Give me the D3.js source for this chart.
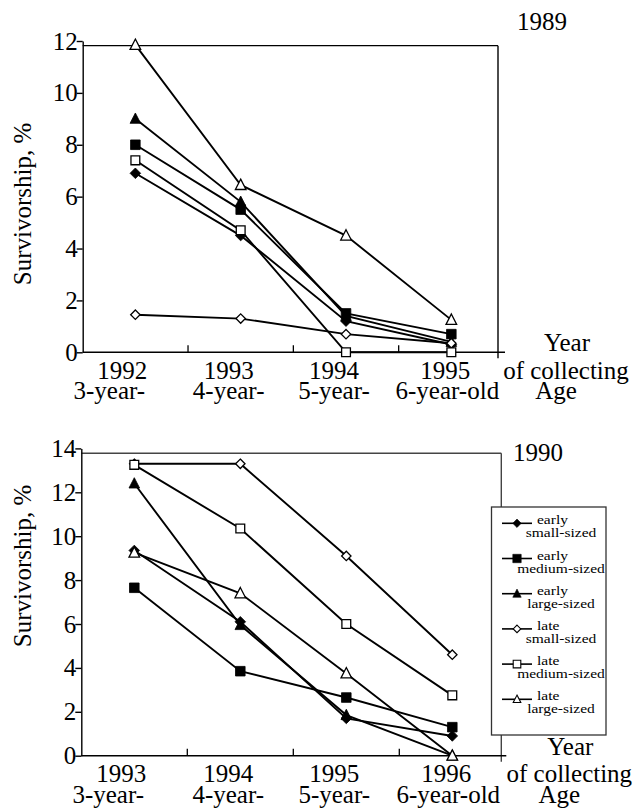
<!DOCTYPE html>
<html>
<head>
<meta charset="utf-8">
<script src="https://cdn.jsdelivr.net/npm/d3@7"></script>
<style>
  body { margin: 0; background: #fff; }
  svg { display: block; }
</style>
</head>
<body>
<svg id="fig" width="634" height="808"></svg>
<script>
// ---- data ----
const seriesKeys   = ["earlySmall", "earlyMedium", "earlyLarge", "lateSmall", "lateMedium", "lateLarge"];
const legendLine1  = ["early", "early", "early", "late", "late", "late"];
const legendLine2  = ["small-sized", "medium-sized", "large-sized", "small-sized", "medium-sized", "large-sized"];
const seriesShapes = ["diamond", "square", "triangle", "diamond", "square", "triangle"];
const seriesFilled = [true, true, true, false, false, false];

const ageLabels = ["3-year-", "4-year-", "5-year-", "6-year-old"];

// cohort hatched in 1989
const years1989 = ["1992", "1993", "1994", "1995"];
const yTicks1989 = [0, 2, 4, 6, 8, 10, 12];
const earlySmall1989  = [6.9, 4.5, 1.2, 0.3];
const earlyMedium1989 = [8.0, 5.5, 1.5, 0.7];
const earlyLarge1989  = [9.0, 5.8, 1.4, 0.4];
const lateSmall1989   = [1.45, 1.3, 0.7, 0.35];
const lateMedium1989  = [7.4, 4.7, 0, 0];
const lateLarge1989   = [11.85, 6.45, 4.5, 1.25];

// cohort hatched in 1990
const years1990 = ["1993", "1994", "1995", "1996"];
const yTicks1990 = [0, 2, 4, 6, 8, 10, 12, 14];
const earlySmall1990  = [9.35, 6.1, 1.7, 0.9];
const earlyMedium1990 = [7.65, 3.85, 2.65, 1.3];
const earlyLarge1990  = [12.4, 5.95, 1.85, 0];
const lateSmall1990   = [13.3, 13.3, 9.1, 4.6];
const lateMedium1990  = [13.25, 10.35, 6.0, 2.75];
const lateLarge1990   = [9.25, 7.4, 3.75, 0];

const series1989 = [earlySmall1989, earlyMedium1989, earlyLarge1989, lateSmall1989, lateMedium1989, lateLarge1989];
const series1990 = [earlySmall1990, earlyMedium1990, earlyLarge1990, lateSmall1990, lateMedium1990, lateLarge1990];

// ---- drawing helpers ----
const svg = d3.select("#fig");
const FONT = 25;
const FAMILY = "'Liberation Serif', 'Tinos', 'Times New Roman', Times, 'DejaVu Serif', serif";

function txt(sel) {
  return sel.append("text").attr("font-family", FAMILY).attr("fill", "#000");
}

function markerPath(shape, r) {
  if (shape === "diamond") return `M0,${-r}L${r},0L0,${r}L${-r},0Z`;
  if (shape === "square") return `M${-r},${-r}h${2 * r}v${2 * r}h${-2 * r}Z`;
  return `M0,${-r * 1.1}L${r},${r * 0.85}L${-r},${r * 0.85}Z`;
}
function markerSize(shape, filled) {
  if (shape === "diamond") return filled ? 5.3 : 4.7;
  if (shape === "square") return filled ? 4.8 : 4.4;
  return 5.3;
}

// label nudges under each category (years, then ages)
const yearNudge = [-13, -12, -12, -6];
const ageNudge  = [-26, -12, -12, -4];

function drawPanel(cfg) {
  const g = svg.append("g");
  const x = d3.scalePoint().domain(cfg.years).range([cfg.x0, cfg.x1]).padding(0.5);
  const band = d3.scaleBand().domain(cfg.years).range([cfg.x0, cfg.x1]);
  const y = d3.scaleLinear().domain([0, cfg.yMax]).range([cfg.yBase, cfg.yTopPx]);

  // frame: top and right edges
  g.append("line").attr("x1", cfg.x0).attr("x2", cfg.frameRight)
    .attr("y1", y(cfg.frameTopValue)).attr("y2", y(cfg.frameTopValue))
    .attr("stroke", cfg.frameColor).attr("stroke-width", 1.4);
  g.append("line").attr("x1", cfg.frameRight).attr("x2", cfg.frameRight)
    .attr("y1", y(cfg.frameTopValue)).attr("y2", cfg.yBase + 6)
    .attr("stroke", cfg.frameColor).attr("stroke-width", 1.4);

  // y axis
  const yAxis = d3.axisLeft(y).tickValues(cfg.yTicks).tickSize(6).tickSizeOuter(0).tickPadding(-1)
    .tickFormat(d3.format("d"));
  const ya = g.append("g").attr("transform", `translate(${cfg.x0},0)`).call(yAxis);
  ya.attr("font-family", FAMILY).attr("font-size", FONT);
  ya.selectAll("path, line").attr("stroke", "#000").attr("stroke-width", 1.4);
  ya.selectAll("text").attr("font-size", FONT).attr("font-family", FAMILY).attr("fill", "#000");

  // x axis baseline with inner ticks at category boundaries
  g.append("line").attr("x1", cfg.x0).attr("x2", cfg.x1 + 1)
    .attr("y1", cfg.yBase).attr("y2", cfg.yBase)
    .attr("stroke", "#000").attr("stroke-width", 1.5);
  g.selectAll(".xtick").data(cfg.years.slice(1)).join("line")
    .attr("x1", d => band(d)).attr("x2", d => band(d))
    .attr("y1", cfg.yBase).attr("y2", cfg.yBase - 7)
    .attr("stroke", "#000").attr("stroke-width", 1.3);

  // category labels
  g.selectAll(".yr").data(cfg.years).join("text")
    .attr("font-family", FAMILY)
    .attr("x", (d, i) => x(d) + yearNudge[i]).attr("y", cfg.yBase + 26.5)
    .attr("text-anchor", "middle").attr("font-size", FONT).text(d => d);
  g.selectAll(".age").data(ageLabels).join("text")
    .attr("font-family", FAMILY)
    .attr("x", (d, i) => x(cfg.years[i]) + ageNudge[i]).attr("y", cfg.yBase + 47)
    .attr("text-anchor", "middle").attr("font-size", FONT).text(d => d);

  // right-hand axis captions
  const capX = cfg.frameRight + 69;
  txt(g).attr("x", capX).attr("y", cfg.yBase - 1).attr("text-anchor", "middle")
    .attr("font-size", FONT).text("Year");
  txt(g).attr("x", capX - 1).attr("y", cfg.yBase + 26.5).attr("text-anchor", "middle")
    .attr("font-size", FONT).text("of collecting");
  txt(g).attr("x", capX - 11).attr("y", cfg.yBase + 47).attr("text-anchor", "middle")
    .attr("font-size", FONT).text("Age");

  // y axis title
  txt(g).attr("transform", `translate(31,${cfg.yLabelCenter}) rotate(-90)`)
    .attr("text-anchor", "middle").attr("font-size", FONT).text("Survivorship, %");

  // panel title
  txt(g).attr("x", cfg.titleX).attr("y", cfg.titleY).attr("font-size", FONT).text(cfg.title);

  // series lines
  const line = d3.line().x((v, i) => x(cfg.years[i])).y(v => y(v));
  cfg.series.forEach(vals => {
    g.append("path").datum(vals).attr("d", line)
      .attr("fill", "none").attr("stroke", "#000").attr("stroke-width", 1.9);
  });

  // series markers
  cfg.series.forEach((vals, s) => {
    const shape = seriesShapes[s], filled = seriesFilled[s];
    g.selectAll(null).data(vals).join("path")
      .attr("transform", (v, i) => `translate(${x(cfg.years[i])},${y(v)})`)
      .attr("d", markerPath(shape, markerSize(shape, filled)))
      .attr("fill", filled ? "#000" : "#fff")
      .attr("stroke", "#000").attr("stroke-width", filled ? 0.8 : 1.3);
  });
  return g;
}

drawPanel({
  years: years1989, series: series1989, yTicks: yTicks1989, yMax: 12,
  x0: 82.7, x1: 504, frameRight: 498, yBase: 352.3, yTopPx: 41, frameTopValue: 11.82,
  frameColor: "#000", title: "1989", titleX: 517, titleY: 30, yLabelCenter: 204
});

drawPanel({
  years: years1990, series: series1990, yTicks: yTicks1990, yMax: 14,
  x0: 81.3, x1: 505.3, frameRight: 501.3, yBase: 755.7, yTopPx: 448.4, frameTopValue: 13.78,
  frameColor: "#444", title: "1990", titleX: 513, titleY: 461, yLabelCenter: 566
});

// ---- legend ----
const lg = svg.append("g");
lg.append("rect").attr("x", 491.5).attr("y", 507).attr("width", 114.5).attr("height", 228)
  .attr("fill", "#fff").attr("stroke", "#333").attr("stroke-width", 1.3);
seriesKeys.forEach((key, i) => {
  const cy = 523.3 + i * 35.2;
  const e = lg.append("g").attr("class", key);
  e.append("line").attr("x1", 502).attr("x2", 532).attr("y1", cy).attr("y2", cy)
    .attr("stroke", "#000").attr("stroke-width", 1.6);
  const shape = seriesShapes[i], filled = seriesFilled[i];
  e.append("path").attr("transform", `translate(517,${cy})`)
    .attr("d", markerPath(shape, filled ? 4.2 : 3.8))
    .attr("fill", filled ? "#000" : "#fff").attr("stroke", "#000").attr("stroke-width", filled ? 0.6 : 1.1);
  // legend labels are set slightly condensed vertically
  txt(e).attr("transform", `translate(537,${cy + 1}) scale(1,0.86)`)
    .attr("font-size", 15.5).text(legendLine1[i]);
  txt(e).attr("transform", `translate(561,${cy + 14}) scale(1,0.86)`)
    .attr("text-anchor", "middle").attr("font-size", 15.5).text(legendLine2[i]);
});
</script>
</body>
</html>
